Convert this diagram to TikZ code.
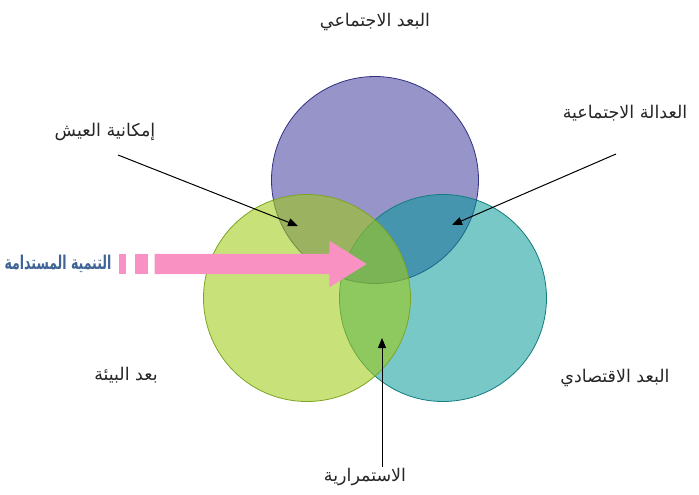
\documentclass[tikz,border=0pt]{standalone}
\usepackage{xcolor}
\usepackage{graphicx}
\usepackage{fontspec}
\usepackage{tikz}
\usetikzlibrary{positioning,arrows.meta,shapes.arrows}
\TeXXeTstate=1
\newfontfamily\arabicfont[Script=Arabic]{DejaVu Sans}
\newcommand{\artext}[1]{\beginR#1\endR}
\definecolor{socfill}{RGB}{150,148,200}
\definecolor{socline}{RGB}{50,50,130}
\definecolor{envfill}{RGB}{160,203,22}
\definecolor{envline}{RGB}{125,165,35}
\definecolor{ecofill}{RGB}{0,151,151}
\definecolor{ecoline}{RGB}{20,125,125}
\definecolor{pinkarrow}{RGB}{250,145,195}
\definecolor{titleblue}{RGB}{65,100,150}
\tikzstyle{dimension} = [circle, minimum size=207pt, inner sep=0pt, line width=0.8pt]
\tikzstyle{lbl} = [font=\arabicfont\fontsize{17.5}{20}\selectfont, text=black!85, inner sep=2pt]
\tikzstyle{stripe} = [rectangle, fill=pinkarrow, minimum height=20pt, inner sep=0pt]
\tikzstyle{bigarrow} = [single arrow, fill=pinkarrow, inner sep=0pt, text height=20pt, text depth=0pt, single arrow head extend=13pt, single arrow tip angle=64, minimum height=212pt]
\tikzstyle{arrow} = [line width=1pt,-{Triangle[length=10pt,width=8pt]}]

\begin{document}
\begin{tikzpicture}[x=1pt,y=-1pt]
      \useasboundingbox (0,0) rectangle (699,495);
      % the three circles
      \node (social) [dimension, fill=socfill, draw=socline] at (375,180) {};
      \node (economic) [dimension, fill=ecofill, fill opacity=0.53, draw=ecoline] at (443,298) {};
      \node (environ) [dimension, fill=envfill, fill opacity=0.58, draw=envline] at (307,298) {};

      \node (soclbl) [lbl] at (375,22) {\artext{البعد الاجتماعي}};
      \node (ecolbl) [lbl] at (615,378) {\artext{البعد الاقتصادي}};
      \node (envlbl) [lbl] at (126,375) {\artext{بعد البيئة}};
      \node (livelbl) [lbl] at (105,132) {\artext{إمكانية العيش}};
      \node (justlbl) [lbl] at (625,113) {\artext{العدالة الاجتماعية}};
      \node (contlbl) [lbl] at (365,477) {\artext{الاستمرارية}};

      % sustainable development arrow
      \node (sdlbl) [lbl, font=\arabicfont\bfseries\fontsize{19}{21}\selectfont, text=titleblue] at (58,264) {\scalebox{0.66}[1]{\artext{التنمية المستدامة}}};
      \node (stripe1) [stripe, minimum width=7pt] at (122,264) {};
      \node (stripe2) [stripe, minimum width=13pt] at (141.5,264) {};
      \node (sdarrow) [bigarrow, anchor=tip] at (367,264) {};

      \coordinate (livetip) at (298,226);
      \coordinate (justtip) at (452,225);
      \coordinate (conttip) at (382,338);
      \draw [arrow] ([xshift=13pt,yshift=-23pt]livelbl.center) -- (livetip);
      \draw [arrow] ([xshift=-9pt,yshift=-41pt]justlbl.center) -- (justtip);
      \draw [arrow] ([xshift=17pt,yshift=10pt]contlbl.center) -- (conttip);

    \end{tikzpicture}
\end{document}
